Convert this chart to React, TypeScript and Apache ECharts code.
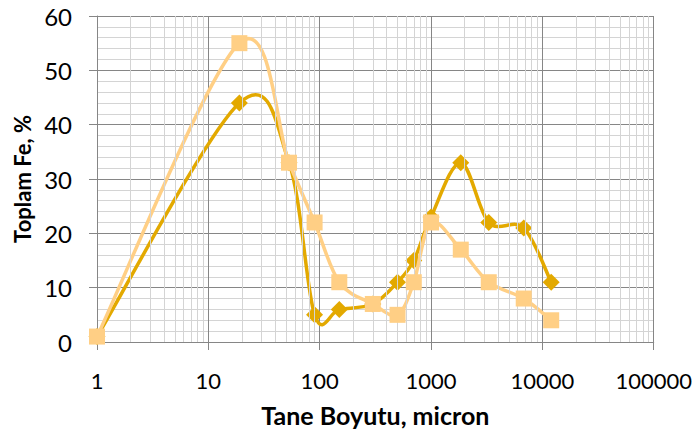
import React, { useEffect, useRef } from "react";
import * as echarts from "echarts";

const xValues = [1, 19, 53, 90, 150, 300, 500, 700, 1000, 1850, 3300, 6800, 12000];
const darkValues = [1, 44, 33, 5, 6, 7, 11, 15, 23, 33, 22, 21, 11];
const lightValues = [1, 55, 33, 22, 11, 7, 5, 11, 22, 17, 11, 8, 4];
const minorX = [2, 3, 4, 5, 6, 7, 8, 9];
const decades = [1, 10, 100, 1000, 10000];
const xAxisTitle = "Tane Boyutu, micron";
const yAxisTitle = "Toplam Fe, %";

const DARK = "#E3A900";
const LIGHT = "#FFCF85";
const FONT = "Lato";

function smoothCurve(vals: number[], color: string, z: number) {
  const n = xValues.length;
  const cl = (k: number) => Math.max(0, Math.min(n - 1, k));
  return {
    type: "custom",
    z,
    silent: true,
    data: xValues.map((x, i) => [x, vals[i]]),
    renderItem: (params: any, api: any) => {
      const i = params.dataIndex;
      if (i >= n - 1) return null;
      const p = (k: number) => api.coord([xValues[cl(k)], vals[cl(k)]]);
      const p0 = p(i - 1), p1 = p(i), p2 = p(i + 1), p3 = p(i + 2);
      const t = 1 / 6;
      return {
        type: "bezierCurve",
        shape: {
          x1: p1[0], y1: p1[1], x2: p2[0], y2: p2[1],
          cpx1: p1[0] + (p2[0] - p0[0]) * t,
          cpy1: p1[1] + (p2[1] - p0[1]) * t,
          cpx2: p2[0] - (p3[0] - p1[0]) * t,
          cpy2: p2[1] - (p3[1] - p1[1]) * t,
        },
        style: { stroke: color, lineWidth: 3.5, fill: null, lineCap: "round" },
      };
    },
  };
}

function markers(vals: number[], color: string, symbol: string, size: number, z: number) {
  return {
    type: "line",
    z,
    data: xValues.map((x, i) => [x, vals[i]]),
    symbol,
    symbolSize: size,
    showAllSymbol: true,
    lineStyle: { opacity: 0 },
    itemStyle: { color },
    emphasis: { disabled: true },
  };
}

export default function App() {
  const ref = useRef<HTMLDivElement>(null);
  useEffect(() => {
    if (!ref.current) return;
    const chart = echarts.init(ref.current, undefined, { renderer: "svg" });
    const minorLines: any[] = [];
    decades.forEach((d) => minorX.forEach((m) => minorLines.push({ xAxis: d * m })));
    chart.setOption({
      animation: false,
      grid: { left: 97, right: 40, top: 16, bottom: 93, containLabel: false },
      xAxis: {
        type: "log",
        logBase: 10,
        min: 1,
        max: 100000,
        name: xAxisTitle,
        nameLocation: "middle",
        nameGap: 60,
        nameTextStyle: { fontFamily: FONT, fontWeight: "bold", fontSize: 25, color: "#000" },
        axisLine: { show: true, lineStyle: { color: "#868686", width: 1 } },
        axisTick: { show: true, length: 8, lineStyle: { color: "#868686" } },
        axisLabel: {
          fontFamily: FONT,
          fontSize: 22,
          color: "#000",
          margin: 27,
          formatter: (v: number) => String(Math.round(v)),
        },
        splitLine: { show: true, lineStyle: { color: "#868686", width: 1 } },
      },
      yAxis: {
        type: "value",
        min: 0,
        max: 60,
        interval: 10,
        name: yAxisTitle,
        nameLocation: "middle",
        nameGap: 64,
        nameTextStyle: { fontFamily: FONT, fontWeight: "bold", fontSize: 22, color: "#000" },
        axisLine: { show: true, lineStyle: { color: "#868686", width: 1 } },
        axisTick: { show: true, length: 8, lineStyle: { color: "#868686" } },
        axisLabel: { fontFamily: FONT, fontSize: 24, color: "#000", margin: 25 },
        splitLine: { show: true, lineStyle: { color: "#868686", width: 1 } },
        minorTick: { show: false, splitNumber: 5 },
        minorSplitLine: { show: true, lineStyle: { color: "#D4D4D4", width: 1 } },
      },
      series: [
        {
          type: "line",
          data: [],
          silent: true,
          z: 1,
          markLine: {
            silent: true,
            symbol: ["none", "none"],
            label: { show: false },
            lineStyle: { color: "#D4D4D4", type: "solid", width: 1 },
            emphasis: { disabled: true },
            data: minorLines,
          },
        },
        smoothCurve(darkValues, DARK, 2),
        markers(darkValues, DARK, "diamond", 17, 3),
        smoothCurve(lightValues, LIGHT, 4),
        markers(lightValues, LIGHT, "rect", 16, 5),
      ],
    });
    return () => chart.dispose();
  }, []);
  return <div ref={ref} style={{ width: 695, height: 435, position: "absolute", left: 0, top: 0 }} />;
}
